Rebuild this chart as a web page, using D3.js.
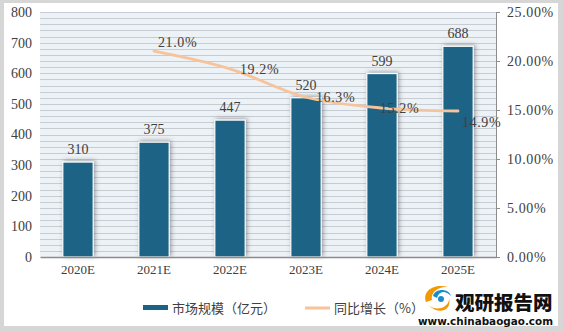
<!DOCTYPE html>
<html><head><meta charset="utf-8">
<script src="https://cdn.jsdelivr.net/npm/d3@7"></script>
<style>
html,body{margin:0;padding:0;background:#fff;}
svg{display:block;}
</style></head>
<body>
<script>
const categories = ["2020E","2021E","2022E","2023E","2024E","2025E"];
const marketSize = [310,375,447,520,599,688];
const growth = [null,21.0,19.2,16.3,15.2,14.9];
const growthLabels = ["","21.0%","19.2%","16.3%","15.2%","14.9%"];
const leftTicks = [0,100,200,300,400,500,600,700,800];
const rightTicks = [0,5,10,15,20,25];
const seriesNames = ["市场规模（亿元）","同比增长（%）"];

const W=563,H=332;
const m={l:40,r:496,t:12,b:257};
const svg=d3.select("body").append("svg").attr("width",W).attr("height",H);
const defs=svg.append("defs");
const f=defs.append("filter").attr("id","sh").attr("x","-50%").attr("y","-20%").attr("width","200%").attr("height","140%");
f.append("feDropShadow").attr("dx",1.5).attr("dy",-1).attr("stdDeviation",2.2).attr("flood-color","#555").attr("flood-opacity",0.55);

// outer frame
svg.append("rect").attr("x",0).attr("y",0).attr("width",W).attr("height",H).attr("fill","#d6d6d6");
svg.append("rect").attr("x",4).attr("y",3).attr("width",W-9).attr("height",H-9).attr("fill","#fff");

const x=d3.scaleBand().domain(categories).range([m.l,m.r]).paddingInner(0.6).paddingOuter(0.3);
const xc=d3.scaleBand().domain(categories).range([m.l,m.r]);
const yL=d3.scaleLinear().domain([0,800]).range([m.b,m.t]);
const yR=d3.scaleLinear().domain([0,25]).range([m.b,m.t]);
const cx=c=>xc(c)+xc.bandwidth()/2;

// plot background
svg.append("rect").attr("x",m.l).attr("y",m.t).attr("width",m.r-m.l).attr("height",m.b-m.t).attr("fill","#edf2f7");
svg.append("g").selectAll("line").data(d3.range(20,800,20)).join("line")
  .attr("x1",m.l).attr("x2",m.r).attr("y1",d=>Math.round(yL(d))+0.5).attr("y2",d=>Math.round(yL(d))+0.5)
  .attr("stroke","#c5ccd3").attr("stroke-width",1);
svg.append("line").attr("x1",m.l).attr("x2",m.r).attr("y1",m.t+0.5).attr("y2",m.t+0.5).attr("stroke","#c5ccd3");

const font="'Liberation Serif','DejaVu Serif',serif";

// left axis
const gl=svg.append("g").attr("transform",`translate(${m.l},0)`)
  .call(d3.axisLeft(yL).tickValues(leftTicks).tickSize(0).tickPadding(8));
gl.select(".domain").remove();
gl.selectAll("text").attr("font-family",font).attr("font-size",14).attr("fill","#404040");

// right axis
const gr=svg.append("g").attr("transform",`translate(${m.r},0)`)
  .call(d3.axisRight(yR).tickValues(rightTicks).tickSize(4).tickPadding(7).tickFormat(d=>d3.format(".2f")(d)+"%"));
gr.select(".domain").attr("stroke","#8c8c8c");
gr.selectAll(".tick line").attr("stroke","#8c8c8c");
gr.selectAll("text").attr("font-family",font).attr("font-size",14).attr("fill","#404040").attr("letter-spacing",0.6);

// bars
svg.append("g").selectAll("rect").data(marketSize).join("rect")
  .attr("x",(d,i)=>x(categories[i])).attr("width",x.bandwidth())
  .attr("y",d=>yL(d)).attr("height",d=>m.b-yL(d))
  .attr("fill","#1b6386").attr("stroke","#fff").attr("stroke-width",1.2).attr("filter","url(#sh)");

// bottom axis
const gb=svg.append("g").attr("transform",`translate(0,${m.b})`)
  .call(d3.axisBottom(xc).tickSize(0).tickPadding(8));
gb.select(".domain").attr("stroke","#8c8c8c").attr("stroke-width",1.5);
gb.selectAll("text").attr("font-family",font).attr("font-size",13).attr("fill","#404040");

// bar labels
svg.append("g").selectAll("text").data(marketSize).join("text")
  .attr("x",(d,i)=>cx(categories[i])).attr("y",d=>yL(d)-8)
  .attr("text-anchor","middle").attr("font-family",font).attr("font-size",14).attr("fill","#404040")
  .text(d=>d);

// line
const gData=categories.map((c,i)=>({c,v:growth[i],label:growthLabels[i],i})).filter(d=>d.v!=null);
svg.append("path").attr("d",d3.line().x(d=>cx(d.c)).y(d=>yR(d.v)).curve(d3.curveCatmullRom.alpha(0.5))(gData))
  .attr("fill","none").attr("stroke","#f6c39a").attr("stroke-width",2.8).attr("stroke-linecap","round");

// line labels
const lblDx=[0,4,10,10,-2,4];
const lblDy=[0,-4,5,5,5,16];
svg.append("g").selectAll("text").data(gData).join("text")
  .attr("x",d=>cx(d.c)+lblDx[d.i]).attr("y",d=>yR(d.v)+lblDy[d.i])
  .attr("font-family",font).attr("font-size",14).attr("fill","#404040").attr("letter-spacing",0.6)
  .text(d=>d.label);

// legend
const lg=svg.append("g");
lg.append("rect").attr("x",143).attr("y",305).attr("width",25).attr("height",5).attr("fill","#1b6386");
lg.append("text").attr("x",172).attr("y",313).attr("font-family","'Noto Sans CJK SC',sans-serif").attr("font-size",13).attr("fill","#404040").text(seriesNames[0]);
lg.append("line").attr("x1",305).attr("x2",330).attr("y1",308).attr("y2",308).attr("stroke","#f6c39a").attr("stroke-width",3);
lg.append("text").attr("x",334).attr("y",313).attr("font-family","'Noto Sans CJK SC',sans-serif").attr("font-size",13).attr("fill","#404040").text(seriesNames[1]);

// logo
const logo=svg.append("g");
logo.append("path").attr("d","M426,302 C422,291 434,283 448,287 C439,286 430,292 432,300 Z").attr("fill","#f39800");
logo.append("path").attr("d","M428,305 C438,313 450,306 449,298 C452,310 440,316 428,305 Z").attr("fill","#f39800");
logo.append("path").attr("d","M433,296 C435,288 449,288 451,296 C445,290 439,291 437,298 Z").attr("fill","#1a8cc8");
logo.append("circle").attr("cx",441).attr("cy",299).attr("r",3).attr("fill","#1a8cc8");
logo.append("text").attr("x",455).attr("y",310).attr("font-family","'Noto Sans CJK SC',sans-serif").attr("font-weight",900).attr("font-size",19.5).attr("fill","#111").text("观研报告网");
logo.append("text").attr("x",418).attr("y",325).attr("font-family","'DejaVu Sans',sans-serif").attr("font-weight","bold").attr("font-size",11).attr("fill","#111")
  .attr("textLength",135).attr("lengthAdjust","spacingAndGlyphs").text("www.chinabaogao.com");
</script>
</body></html>
